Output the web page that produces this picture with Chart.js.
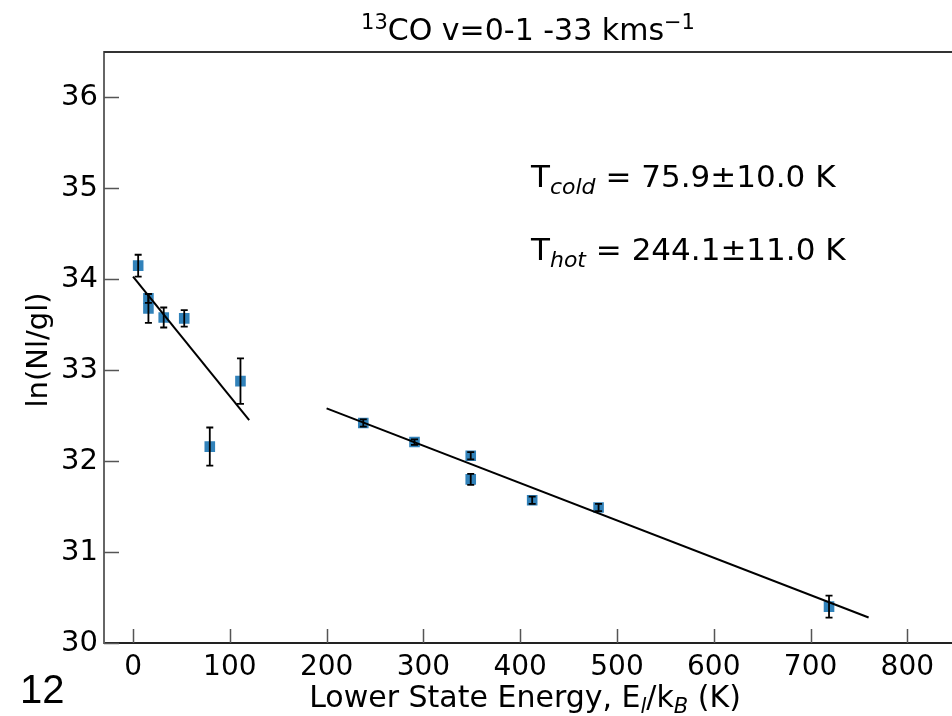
<!DOCTYPE html>
<html>
<head>
<meta charset="utf-8">
<script src="https://cdn.jsdelivr.net/npm/chart.js@4"></script>
<style>
	html, body { margin: 0; padding: 0; background: #fff; overflow: hidden; }
	#wrap { width: 952px; height: 716px; position: relative; overflow: hidden; }
</style>
</head>
<body>
<div id="wrap"><canvas id="rotchart" width="1000" height="716"></canvas></div>
<script>
// level energies (K) and ln(Nl/gl) with 1-sigma errors
var energies = [5.3, 15.9, 15.9, 31.7, 52.9, 79.3, 111.0, 237.9, 290.8, 348.9, 348.9, 412.4, 481.0, 719.1];
var lnNgl = [34.15, 33.79, 33.68, 33.58, 33.57, 32.16, 32.88, 32.42, 32.21, 32.06, 31.80, 31.57, 31.49, 30.40];
var lnErr = [0.12, 0.05, 0.16, 0.11, 0.09, 0.21, 0.25, 0.04, 0.03, 0.04, 0.06, 0.04, 0.04, 0.12];

// fitted lines, cold and hot component
var coldFitX = [0, 120];
var coldFitY = [34.03, 32.45];
var hotFitX = [200, 760];
var hotFitY = [32.58, 30.28];

var xTicks = [0, 100, 200, 300, 400, 500, 600, 700, 800];
var yTicks = [30, 31, 32, 33, 34, 35, 36];

var family = "'DejaVu Sans', sans-serif";

function toPoints(xs, ys) {
	var pts = [];
	for (let i = 0; i < xs.length; i++) {
		pts.push({x: xs[i], y: ys[i]});
	}
	return pts;
}

function drawRuns(ctx, runs, x, y, align) {
	var total = 0;
	runs.forEach(function (r) {
		ctx.font = (r.italic ? 'italic ' : '') + r.size + 'px ' + (r.family || family);
		r.w = ctx.measureText(r.t).width;
		total += r.w;
	});
	var cx = align === 'center' ? x - total / 2 : x;
	runs.forEach(function (r) {
		ctx.font = (r.italic ? 'italic ' : '') + r.size + 'px ' + (r.family || family);
		ctx.fillText(r.t, cx, y + (r.dy || 0));
		cx += r.w;
	});
}

// error bars with caps, on top of the squares
var errorBars = {
	id: 'errorBars',
	afterDatasetsDraw: function (chart) {
		var ctx = chart.ctx;
		var x = chart.scales.x, y = chart.scales.y;
		ctx.save();
		ctx.strokeStyle = '#000';
		ctx.lineWidth = 1.8;
		for (let i = 0; i < energies.length; i++) {
			var px = x.getPixelForValue(energies[i]);
			var top = y.getPixelForValue(lnNgl[i] + lnErr[i]);
			var bot = y.getPixelForValue(lnNgl[i] - lnErr[i]);
			ctx.beginPath();
			ctx.moveTo(px, top); ctx.lineTo(px, bot);
			ctx.moveTo(px - 3.5, top); ctx.lineTo(px + 3.5, top);
			ctx.moveTo(px - 3.5, bot); ctx.lineTo(px + 3.5, bot);
			ctx.stroke();
		}
		ctx.restore();
	}
};

// top frame line, inward ticks and all the text with sub/superscripts
var frame = {
	id: 'frame',
	afterDraw: function (chart) {
		var ctx = chart.ctx;
		var a = chart.chartArea;
		var x = chart.scales.x, y = chart.scales.y;
		ctx.save();
		ctx.strokeStyle = '#333';
		ctx.lineWidth = 2;
		ctx.beginPath();
		ctx.moveTo(a.left, a.top); ctx.lineTo(1000, a.top);
		ctx.stroke();

		ctx.strokeStyle = '#555';
		ctx.lineWidth = 1.5;
		ctx.beginPath();
		x.ticks.forEach(function (t) {
			var px = Math.round(x.getPixelForValue(t.value)) + 0.5;
			ctx.moveTo(px, a.bottom); ctx.lineTo(px, a.bottom - 14);
		});
		y.ticks.forEach(function (t) {
			var py = Math.round(y.getPixelForValue(t.value)) + 0.5;
			ctx.moveTo(a.left, py); ctx.lineTo(a.left + 15, py);
		});
		ctx.stroke();

		ctx.fillStyle = '#000';
		ctx.textBaseline = 'alphabetic';
		ctx.textAlign = 'left';
		drawRuns(ctx, [
			{t: '13', size: 21, dy: -11},
			{t: 'CO v=0-1 -33 kms', size: 30},
			{t: '\u22121', size: 21, dy: -11}
		], 528, 40, 'center');

		drawRuns(ctx, [
			{t: 'T', size: 31},
			{t: 'cold', size: 22, italic: true, dy: 7},
			{t: ' = 75.9\u00b110.0 K', size: 31}
		], 531, 187, 'left');
		drawRuns(ctx, [
			{t: 'T', size: 31},
			{t: 'hot', size: 22, italic: true, dy: 7},
			{t: ' = 244.1\u00b111.0 K', size: 31}
		], 531, 260, 'left');

		drawRuns(ctx, [
			{t: 'Lower State Energy, E', size: 30},
			{t: 'l', size: 21, italic: true, dy: 6},
			{t: '/k', size: 30},
			{t: 'B', size: 21, italic: true, dy: 6},
			{t: ' (K)', size: 30}
		], 525, 707, 'center');

		ctx.save();
		ctx.translate(47, 350);
		ctx.rotate(-Math.PI / 2);
		drawRuns(ctx, [{t: 'ln(Nl/gl)', size: 29}], 0, 0, 'center');
		ctx.restore();

		drawRuns(ctx, [{t: '12', size: 40, family: "'Liberation Sans', Arial, sans-serif"}], 20, 703, 'left');
		ctx.restore();
	}
};

var ctx = document.getElementById('rotchart').getContext('2d');
var rotChart = new Chart(ctx, {
	type: 'scatter',
	data: {
		datasets: [{
			label: 'data',
			data: toPoints(energies, lnNgl),
			pointStyle: 'rect',
			pointRadius: 7.5,
			pointHoverRadius: 7.5,
			backgroundColor: 'rgba(31, 119, 180, 0.92)',
			borderWidth: 0,
			order: 2
		}, {
			label: 'cold fit',
			type: 'line',
			data: toPoints(coldFitX, coldFitY),
			borderColor: '#000',
			borderWidth: 2,
			pointRadius: 0,
			fill: false,
			order: 1
		}, {
			label: 'hot fit',
			type: 'line',
			data: toPoints(hotFitX, hotFitY),
			borderColor: '#000',
			borderWidth: 2,
			pointRadius: 0,
			fill: false,
			order: 1
		}]
	},
	options: {
		responsive: false,
		animation: false,
		layout: {
			padding: { top: 52, right: 0, left: 0, bottom: 0 }
		},
		plugins: {
			legend: { display: false },
			tooltip: { enabled: false },
			title: { display: false }
		},
		scales: {
			x: {
				type: 'linear',
				min: -30,
				max: 888,
				afterBuildTicks: function (scale) {
					scale.ticks = xTicks.map(function (v) { return {value: v}; });
				},
				afterFit: function (scale) {
					scale.height = 73;
				},
				grid: { display: true, drawOnChartArea: false, drawTicks: false },
				border: { display: true, color: '#222', width: 2 },
				ticks: {
					padding: 8,
					maxRotation: 0,
					color: '#000',
					font: { family: 'DejaVu Sans', size: 28 }
				}
			},
			y: {
				type: 'linear',
				min: 30,
				max: 36.5,
				afterBuildTicks: function (scale) {
					scale.ticks = yTicks.map(function (v) { return {value: v}; });
				},
				afterFit: function (scale) {
					scale.width = 104;
				},
				grid: { display: true, drawOnChartArea: false, drawTicks: false },
				border: { display: true, color: '#666', width: 2 },
				ticks: {
					padding: 6,
					color: '#000',
					font: { family: 'DejaVu Sans', size: 29 }
				}
			}
		}
	},
	plugins: [errorBars, frame]
});
</script>
</body>
</html>
